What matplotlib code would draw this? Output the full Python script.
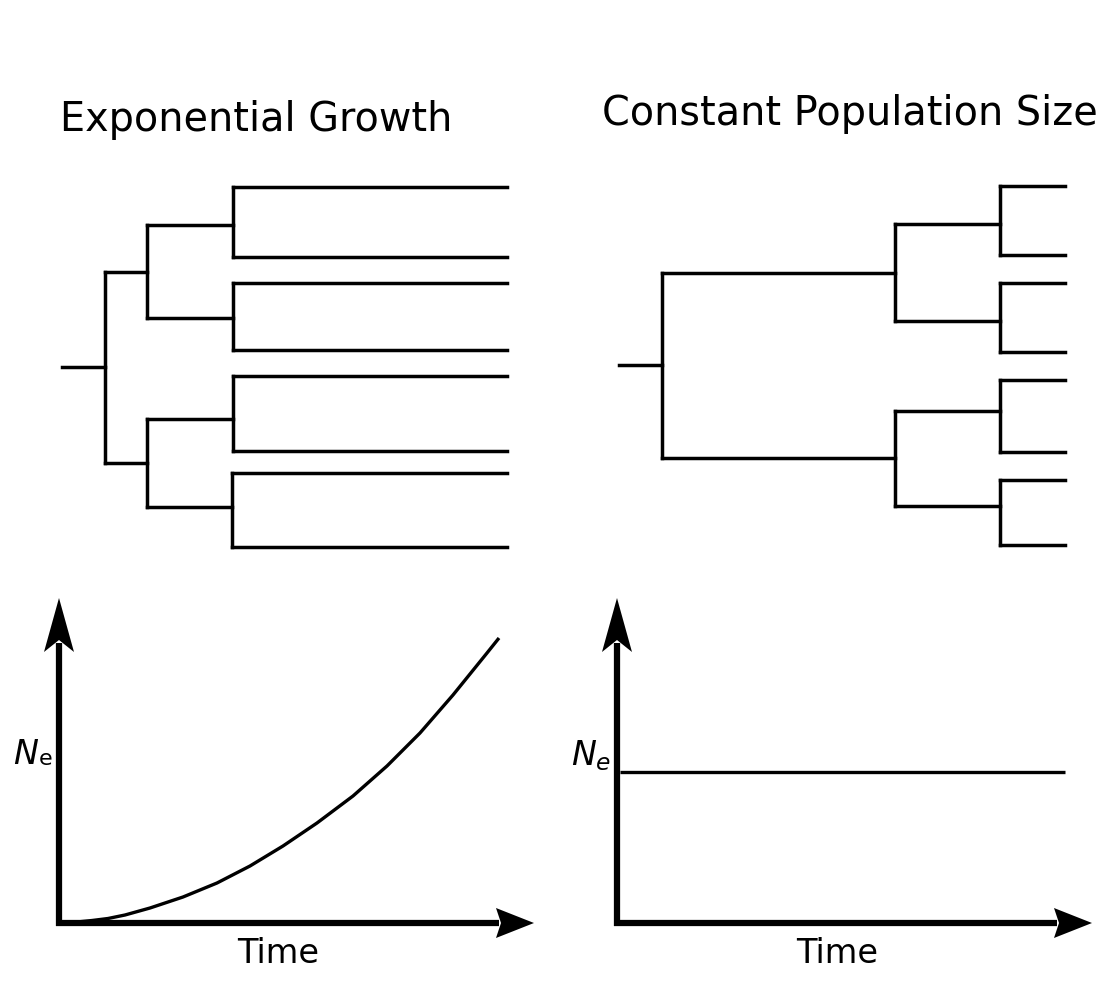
import numpy as np
import matplotlib
matplotlib.use("Agg")
import matplotlib.pyplot as plt

# titles / labels
titles = ["Exponential Growth", "Constant Population Size"]
xlabel = "Time"

# trees (pixel units of the 1111x1000 picture)
# exponential growth tree
exp_leaf_y = [187, 257, 283, 350, 376, 451, 473, 547]
exp_tip_x = 507
exp_cherry_x = [233, 233, 233, 232]
exp_cherry_y = [225, 318, 419, 507]
exp_mid_x = [147, 147]
exp_mid_y = [272, 463]
exp_root_x = 105
exp_root_y = 367
exp_stub_x = 62

# constant size tree
con_leaf_y = [186, 255, 283, 352, 380, 452, 480, 545]
con_tip_x = 1065
con_cherry_x = [1000, 1000, 1000, 1000]
con_cherry_y = [224, 321, 411, 506]
con_mid_x = [895, 895]
con_mid_y = [273, 458]
con_root_x = 662
con_root_y = 365
con_stub_x = 619

# population size curves
exp_t = [59, 75, 92, 108, 125, 150, 183, 217, 250, 283, 317, 353, 387, 420, 453, 487, 499]
exp_ne = [923, 922.2, 920.5, 918.5, 915, 908, 897, 883, 866, 846, 823, 796, 766, 733, 695, 653, 638]
con_t = [620, 1065]
con_ne = [772, 772]

fig = plt.figure(figsize=(11.11, 10), dpi=100)
ax = fig.add_axes([0, 0, 1, 1])
ax.set_xlim(0, 1111)
ax.set_ylim(1000, 0)
ax.axis("off")

LW = 2.5


def seg(x, y):
    ax.plot(x, y, color="black", lw=LW, solid_capstyle="projecting")


def tree(leaf_y, tip_x, cherry_x, cherry_y, mid_x, mid_y, root_x, root_y, stub_x):
    for i in range(4):
        cx = cherry_x[i]
        y1, y2 = leaf_y[2 * i], leaf_y[2 * i + 1]
        seg([cx, cx], [y1, y2])
        seg([cx, tip_x], [y1, y1])
        seg([cx, tip_x], [y2, y2])
        seg([mid_x[i // 2], cx], [cherry_y[i], cherry_y[i]])
    for j in range(2):
        seg([mid_x[j], mid_x[j]], [cherry_y[2 * j], cherry_y[2 * j + 1]])
        seg([root_x, mid_x[j]], [mid_y[j], mid_y[j]])
    seg([root_x, root_x], [mid_y[0], mid_y[1]])
    seg([stub_x, root_x], [root_y, root_y])


tree(exp_leaf_y, exp_tip_x, exp_cherry_x, exp_cherry_y, exp_mid_x, exp_mid_y,
     exp_root_x, exp_root_y, exp_stub_x)
tree(con_leaf_y, con_tip_x, con_cherry_x, con_cherry_y, con_mid_x, con_mid_y,
     con_root_x, con_root_y, con_stub_x)


def axes_arrows(ox, oy, ytip, xtip):
    # shafts
    ax.plot([ox, ox], [oy + 3, ytip + 45], color="black", lw=4.5, solid_capstyle="butt")
    ax.plot([ox - 3, xtip - 35], [oy, oy], color="black", lw=4.5, solid_capstyle="butt")
    # heads (notched)
    ax.fill([ox, ox - 15, ox, ox + 15], [ytip, ytip + 54, ytip + 42, ytip + 54],
            color="black", lw=0)
    ax.fill([xtip, xtip - 38, xtip - 33, xtip - 38], [oy, oy - 15, oy, oy + 15],
            color="black", lw=0)


axes_arrows(59, 923, 598, 534)
axes_arrows(617, 923, 598, 1092)

ax.plot(exp_t, exp_ne, color="black", lw=2.4, solid_capstyle="butt",
        solid_joinstyle="round")
ax.plot(con_t, con_ne, color="black", lw=2.4, solid_capstyle="butt")

# texts
ax.text(60, 131, titles[0], fontsize=28.6, va="baseline", ha="left")
ax.text(602, 125, titles[1], fontsize=28.6, va="baseline", ha="left")
ax.text(278, 963, xlabel, fontsize=24.2, va="baseline", ha="center")
ax.text(837, 963, xlabel, fontsize=24.2, va="baseline", ha="center")
ax.text(13, 764, "N", fontsize=24, style="italic", va="baseline", ha="left")
ax.text(39, 765, "e", fontsize=16, va="baseline", ha="left")
ax.text(571, 765, r"$N_e$", fontsize=24, va="baseline", ha="left")

fig.savefig("out.png", dpi=100, facecolor="white")
